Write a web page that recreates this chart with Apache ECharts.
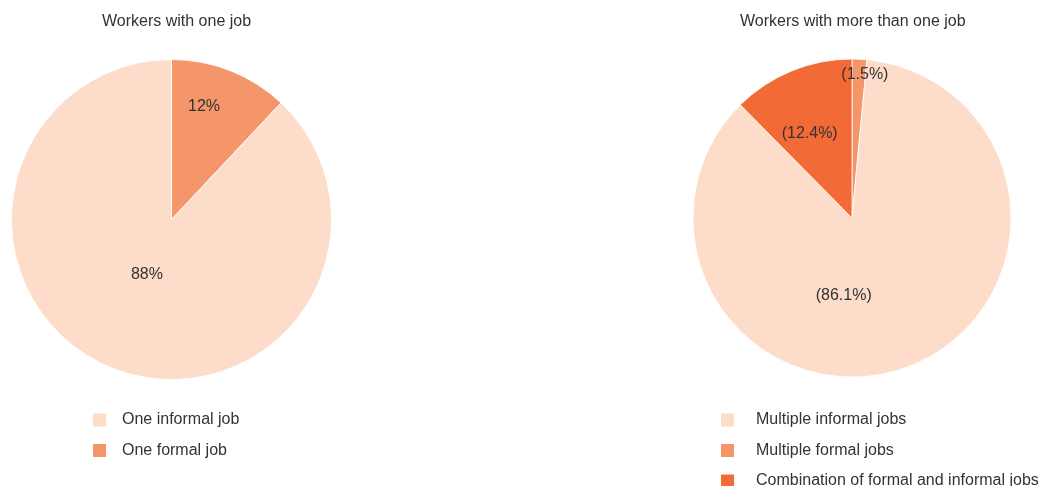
<!DOCTYPE html>
<html>
<head>
<meta charset="utf-8">
<script src="https://cdn.jsdelivr.net/npm/echarts@6/dist/echarts.min.js"></script>
<style>
  html, body { margin: 0; padding: 0; background: #fff; }
  #chart { width: 1042px; height: 486px; }
</style>
</head>
<body>
<div id="chart"></div>
<script>
// one job (clockwise from 12 o'clock)
const oneJobNames = ['One formal job', 'One informal job'];
const oneJobValues = [12, 88];
const oneJobLabels = ['12%', '88%'];
const oneJobLegend = ['One informal job', 'One formal job'];

// more than one job (clockwise from 12 o'clock)
const multiJobNames = ['Multiple formal jobs', 'Multiple informal jobs', 'Combination of formal and informal jobs'];
const multiJobValues = [1.5, 86.1, 12.4];
const multiJobLabels = ['(1.5%)', '(86.1%)', '(12.4%)'];
const multiJobLegend = ['Multiple informal jobs', 'Multiple formal jobs', 'Combination of formal and informal jobs'];

const LIGHT = '#FDDCC9', MID = '#F5956A', DARK = '#F26A35';
const colorOf = {
    'One formal job': MID, 'One informal job': LIGHT,
    'Multiple formal jobs': MID, 'Multiple informal jobs': LIGHT,
    'Combination of formal and informal jobs': DARK
};
// label nudges: horizontal via padding (negative keeps boxes small),
// vertical via a trailing blank line of given height
const labelPad = {
    'One formal job': [0, 0, 0, 4],
    'One informal job': [0, 0, 0, 12],
    'Multiple formal jobs': [0, -18, 0, 0],
    'Multiple informal jobs': [0, 72, 0, 0],
    'Combination of formal and informal jobs': [0, -8, 0, -30]
};
const labelLift = {
    'One formal job': 72,
    'One informal job': 44,
    'Multiple formal jobs': 121,
    'Multiple informal jobs': 0,
    'Combination of formal and informal jobs': 16
};

function makeData(names, values, labels) {
    return names.map((n, i) => {
        let lift = labelLift[n];
        let lbl = { padding: labelPad[n], formatter: labels[i] };
        if (lift > 0) {
            lbl.formatter = labels[i] + '\n ';
            lbl.lineHeight = lift;
        }
        return {
            name: n,
            value: values[i],
            itemStyle: { color: colorOf[n] },
            label: lbl
        };
    });
}

const FONT = 'Liberation Sans, Arial, sans-serif';

function makeLegend(names, left, textGap) {
    return {
        data: names,
        orient: 'vertical',
        left: left,
        top: 412,
        height: 120,
        width: 400,
        padding: 0,
        icon: 'rect',
        itemWidth: 13,
        itemHeight: 13,
        itemGap: 14.5,
        selectedMode: false,
        itemStyle: { borderWidth: 0 },
        textStyle: { fontFamily: FONT, fontSize: 16, color: '#333', padding: [0, 0, 0, textGap] }
    };
}

function makePie(center, radius, data) {
    return {
        type: 'pie',
        center: center,
        radius: radius,
        startAngle: 90,
        clockwise: true,
        silent: true,
        minShowLabelAngle: 0,
        data: data,
        itemStyle: { borderColor: '#fff', borderWidth: 0.8 },
        label: { show: true, position: 'inner', fontFamily: FONT, fontSize: 16, color: '#333' },
        labelLine: { show: false },
        emphasis: { disabled: true }
    };
}

let chart = echarts.init(document.getElementById('chart'));
chart.setOption({
    animation: false,
    backgroundColor: '#fff',
    title: [
        { text: 'Workers with one job', left: 97, top: 9,
          textStyle: { fontFamily: FONT, fontSize: 16, fontWeight: 'normal', color: '#333' } },
        { text: 'Workers with more than one job', left: 735, top: 9,
          textStyle: { fontFamily: FONT, fontSize: 16, fontWeight: 'normal', color: '#333' } }
    ],
    legend: [makeLegend(oneJobLegend, 93, 11), makeLegend(multiJobLegend, 721, 17)],
    series: [
        makePie([171.5, 219.5], 160, makeData(oneJobNames, oneJobValues, oneJobLabels)),
        makePie([852, 218], 159, makeData(multiJobNames, multiJobValues, multiJobLabels))
    ]
});
</script>
</body>
</html>
